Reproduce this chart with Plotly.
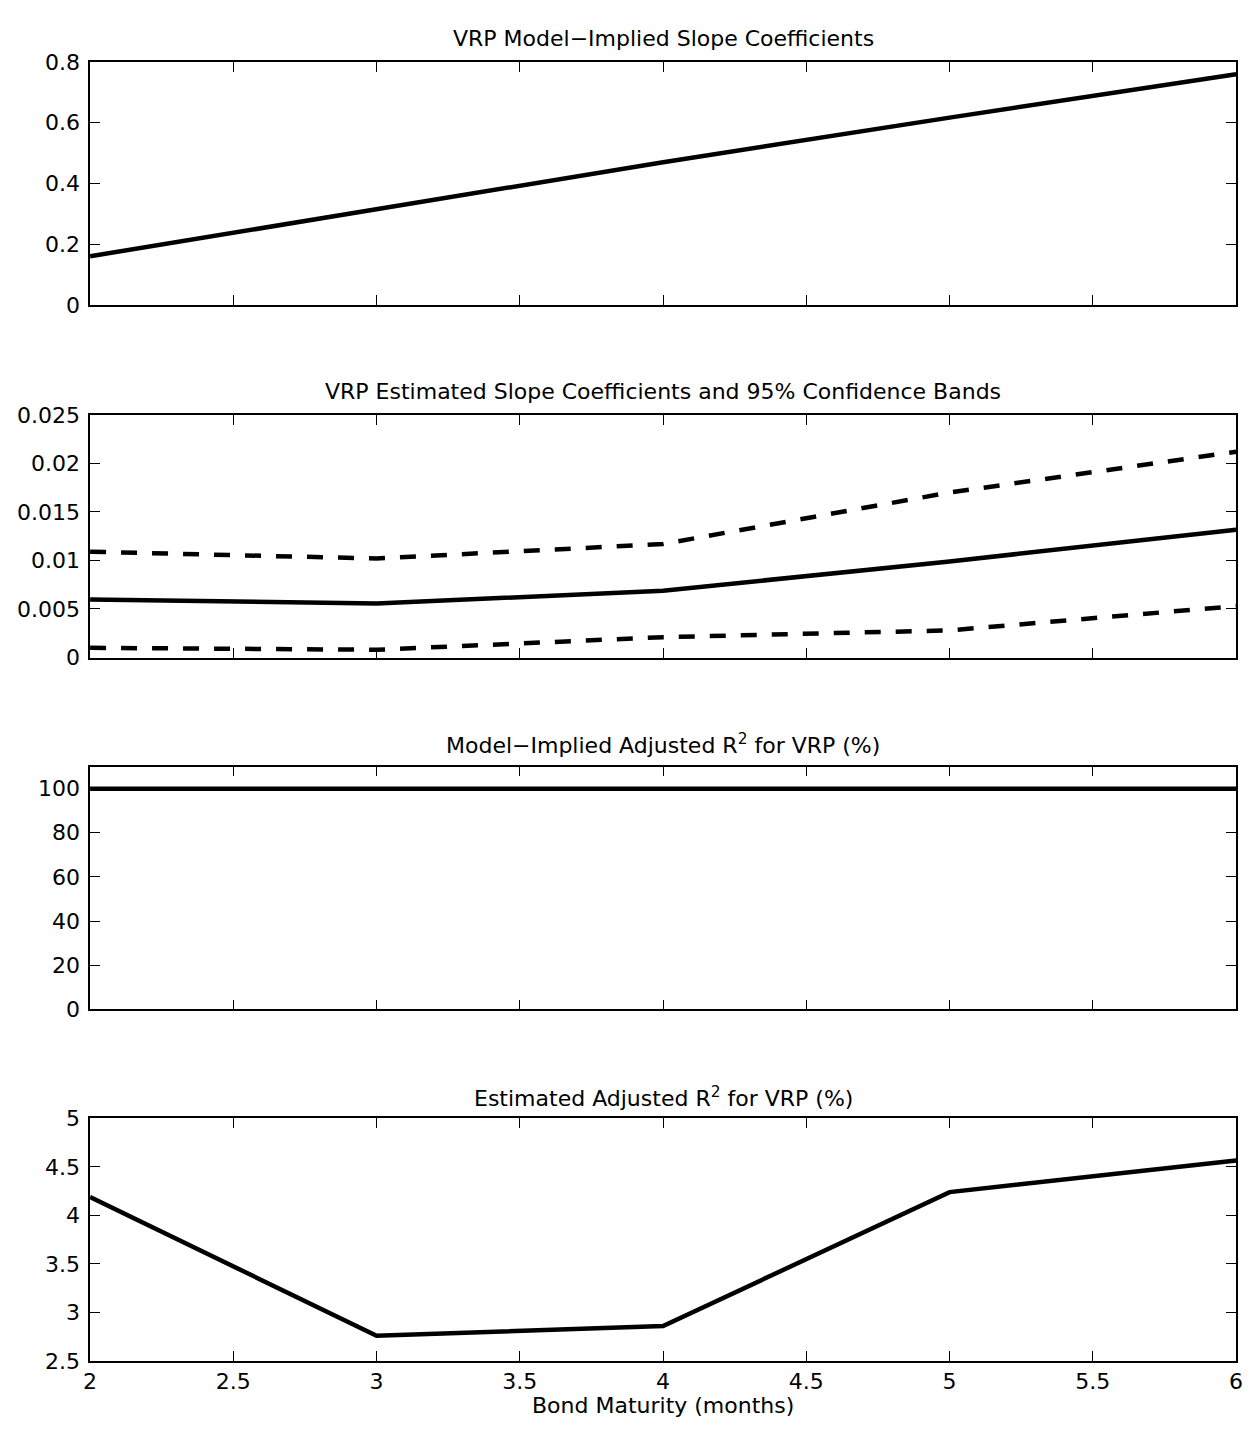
import plotly.graph_objects as go

W, H = 1253, 1432

maturity = [2, 3, 4, 5, 6]
model_slope = [0.16, 0.315, 0.47, 0.617, 0.76]
est_slope = [0.00597, 0.00557, 0.00688, 0.0099, 0.01316]
est_upper = [0.0109, 0.0102, 0.0117, 0.0170, 0.0212]
est_lower = [0.0010, 0.0008, 0.0021, 0.0028, 0.0053]
model_r2 = [100, 100, 100, 100, 100]
est_r2 = [4.19, 2.76, 2.86, 4.24, 4.565]

titles = [
    "VRP Model\u2212Implied Slope Coefficients",
    "VRP Estimated Slope Coefficients and 95% Confidence Bands",
    "Model\u2212Implied Adjusted R<sup>2</sup> for VRP (%)",
    "Estimated Adjusted R<sup>2</sup> for VRP (%)",
]
x_label = "Bond Maturity (months)"
x_ticks = [2, 2.5, 3, 3.5, 4, 4.5, 5, 5.5, 6]
x_ticktext = ["2", "2.5", "3", "3.5", "4", "4.5", "5", "5.5", "6"]
y1_ticks = [0, 0.2, 0.4, 0.6, 0.8]
y1_text = ["0", "0.2", "0.4", "0.6", "0.8"]
y2_ticks = [0, 0.005, 0.01, 0.015, 0.02, 0.025]
y2_text = ["0", "0.005", "0.01", "0.015", "0.02", "0.025"]
y3_ticks = [0, 20, 40, 60, 80, 100]
y3_text = ["0", "20", "40", "60", "80", "100"]
y4_ticks = [2.5, 3, 3.5, 4, 4.5, 5]
y4_text = ["2.5", "3", "3.5", "4", "4.5", "5"]

FONT = "DejaVu Sans, Liberation Sans, Arial, sans-serif"
FS = 22

# pixel geometry
left, right = 84, 1243
panels = [(51, 298), (410, 657), (768, 1015), (1126, 1373)]
title_y = [27, 386, 745, 1104]

fig = go.Figure()

def add_line(x, y, i, dash="solid"):
    fig.add_trace(go.Scatter(
        x=x, y=y, mode="lines",
        line=dict(color="black", width=4.5, dash=dash),
        xaxis="x" if i == 0 else f"x{i+1}",
        yaxis="y" if i == 0 else f"y{i+1}",
        showlegend=False, hoverinfo="skip"))

add_line(maturity, model_slope, 0)
add_line(maturity, est_upper, 1, dash="16px,15px")
add_line(maturity, est_slope, 1)
add_line(maturity, est_lower, 1, dash="16px,15px")
add_line(maturity, model_r2, 2)
add_line(maturity, est_r2, 3)

yranges = [[0, 0.8], [0, 0.025], [0, 110], [2.5, 5]]
yticks = [(y1_ticks, y1_text), (y2_ticks, y2_text), (y3_ticks, y3_text), (y4_ticks, y4_text)]

layout = dict(
    width=W, height=H,
    margin=dict(l=0, r=0, t=0, b=0),
    paper_bgcolor="white", plot_bgcolor="white",
    font=dict(family=FONT, size=FS, color="black"),
    showlegend=False,
)

axis_common = dict(
    showline=True, linecolor="black", linewidth=1.5, mirror="ticks",
    ticks="inside", ticklen=10, tickwidth=1, tickcolor="black",
    showgrid=False, zeroline=False,
    tickfont=dict(family=FONT, size=FS, color="black"),
)

annotations = []
for i, (top, bot) in enumerate(panels):
    sfx = "" if i == 0 else str(i + 1)
    ydom = [1 - bot / H, 1 - top / H]
    layout["xaxis" + sfx] = dict(
        axis_common, domain=[left / W, right / W], range=[2, 6],
        tickvals=x_ticks, ticktext=x_ticktext,
        showticklabels=(i == 3),
        anchor="y" + sfx,
    )
    layout["yaxis" + sfx] = dict(
        axis_common, domain=ydom, range=yranges[i],
        tickvals=yticks[i][0], ticktext=yticks[i][1],
        ticklabelstandoff=4,
        anchor="x" + sfx,
    )
    annotations.append(dict(
        text=titles[i], x=(left + right) / 2 / W, y=1 - title_y[i] / H,
        xref="paper", yref="paper", showarrow=False,
        xanchor="center", yanchor="middle",
        font=dict(family=FONT, size=FS, color="black"),
    ))

annotations.append(dict(
    text=x_label, x=(left + right) / 2 / W, y=1 - 1418 / H,
    xref="paper", yref="paper", showarrow=False,
    xanchor="center", yanchor="middle",
    font=dict(family=FONT, size=FS, color="black"),
))
layout["annotations"] = annotations

fig.update_layout(**layout)
fig.write_html("out.html")
